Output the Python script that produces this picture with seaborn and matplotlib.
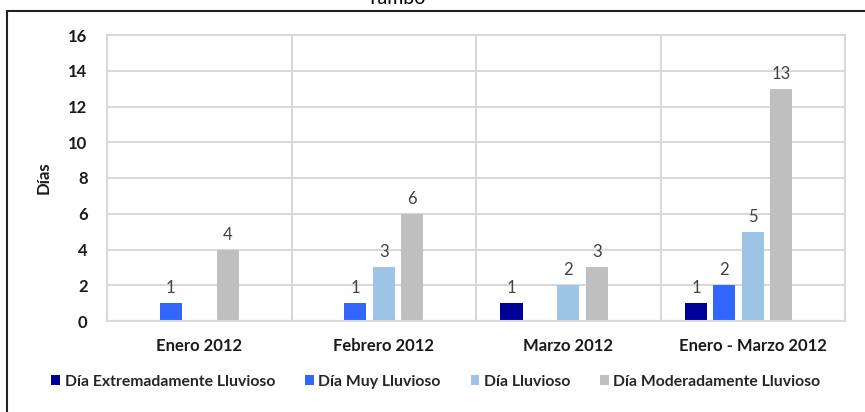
import numpy as np
import pandas as pd
import matplotlib
matplotlib.use("Agg")
import matplotlib.pyplot as plt
from matplotlib.lines import Line2D
from matplotlib.patches import Patch
import seaborn as sns

title = "Tambo"
categories = ["Enero 2012", "Febrero 2012", "Marzo 2012", "Enero - Marzo 2012"]
series = ["Día Extremadamente Lluvioso", "Día Muy Lluvioso", "Día Lluvioso", "Día Moderadamente Lluvioso"]
extremo = [0, 0, 1, 1]
muy = [1, 1, 0, 2]
lluvioso = [0, 3, 2, 5]
moderado = [4, 6, 3, 13]
colors = ["#000099", "#3366FF", "#9DC3E6", "#BFBFBF"]
y_ticks = [0, 2, 4, 6, 8, 10, 12, 14, 16]

sns.set_theme(style="white")
plt.rcParams['font.family'] = ['Lato', 'DejaVu Sans']

values = [extremo, muy, lluvioso, moderado]
rows = []
for s, vals in zip(series, values):
    for c, v in zip(categories, vals):
        rows.append({"cat": c, "serie": s, "val": v if v > 0 else np.nan})
# empty fifth slot (Excel-style spacing)
for c in categories:
    rows.append({"cat": c, "serie": " ", "val": np.nan})
df = pd.DataFrame(rows)

fig = plt.figure(figsize=(8.65, 4.12), dpi=100)
ax = fig.add_axes([107/865, 1-321/412, 738/865, 286/412])

hue_order = series + [" "]
palette = colors + ["#FFFFFF"]
sns.barplot(data=df, x="cat", y="val", hue="serie", order=categories,
            hue_order=hue_order, palette=palette, width=0.77, gap=0.22,
            saturation=1, ax=ax, legend=False, errorbar=None, linewidth=0)

for cont in ax.containers:
    labels = []
    for b in cont:
        h = b.get_height()
        labels.append("" if (h is None or np.isnan(h) or h == 0) else f"{int(round(h))}")
    ax.bar_label(cont, labels=labels, padding=5, fontsize=12, color="#404040")

ax.set_xlim(-0.5, 3.5)
ax.set_ylim(0, 16)
ax.set_yticks(y_ticks)
ax.set_yticklabels([str(t) for t in y_ticks], fontsize=12, fontweight="bold", color="#1a1a1a")
ax.set_xticks(range(len(categories)))
ax.set_xticklabels(categories, fontsize=12, fontweight="bold", color="#1a1a1a")
ax.set_xticks([0.5, 1.5, 2.5], minor=True)
ax.tick_params(axis="both", which="both", length=0)
ax.tick_params(axis="y", pad=14)
ax.tick_params(axis="x", pad=12)
ax.set_xlabel("")
ax.set_ylabel("Días", fontsize=12, fontweight="bold", color="#1a1a1a", labelpad=12)
ax.grid(axis="y", which="major", color="#D9D9D9", linewidth=1.5)
ax.grid(axis="x", which="minor", color="#D9D9D9", linewidth=1.5)
ax.set_axisbelow(True)
for sp in ax.spines.values():
    sp.set_visible(True)
    sp.set_color("#D9D9D9")
    sp.set_linewidth(1.5)

handles = [Patch(facecolor=c, edgecolor="none") for c in colors]
fig.legend(handles, series, loc="center", bbox_to_anchor=(436/865, 1-382/412), ncol=4,
           frameon=False, handlelength=0.55, handleheight=0.6, handletextpad=0.3,
           columnspacing=1.9, prop={"family": "Lato", "weight": "bold", "size": 11.3})

# outer chart border (top and left, rest cropped)
fig.add_artist(Line2D([7/865, 1.0], [1-11/412, 1-11/412], color="#222222", linewidth=1.5))
fig.add_artist(Line2D([7/865, 7/865], [0, 1-11/412], color="#222222", linewidth=1.5))
fig.text(396/865, 1-4/412, title, ha="center", va="baseline", fontsize=14, color="#000000")

fig.savefig("out.png", dpi=100)
